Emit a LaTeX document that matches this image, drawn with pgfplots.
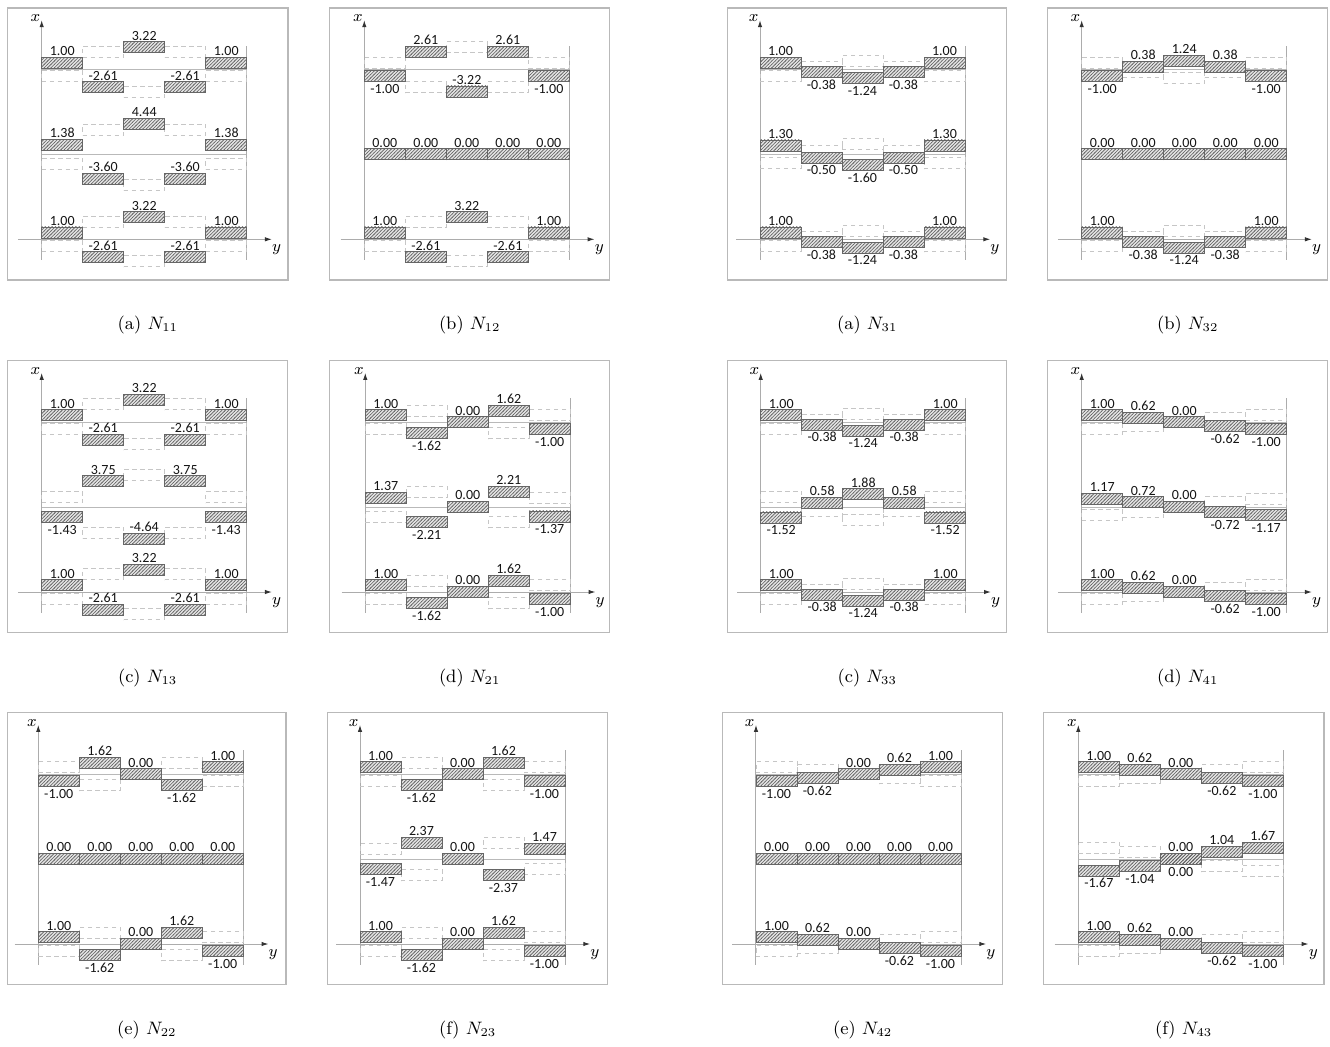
\documentclass[border=0pt]{standalone}
\usepackage{pgfplots}
\pgfplotsset{compat=1.18}
\usepackage{pgfplotstable}
\usepackage{fontspec}
\newfontfamily\numfont{Carlito}
\usetikzlibrary{patterns,arrows.meta}

\pgfdeclarepatternformonly{hatch}{\pgfpoint{-0.2pt}{-0.2pt}}{\pgfpoint{1.9pt}{1.9pt}}{\pgfpoint{1.7pt}{1.7pt}}{%
  \pgfsetlinewidth{0.3pt}%
  \pgfpathmoveto{\pgfpoint{-0.2pt}{-0.2pt}}%
  \pgfpathlineto{\pgfpoint{1.9pt}{1.9pt}}%
  \pgfusepath{stroke}}

\pgfdeclareplotmark{cellfill}{\pgfpathrectangle{\pgfpoint{-10.25pt}{-2.75pt}}{\pgfpoint{20.5pt}{5.5pt}}\pgfusepathqfill}
\pgfdeclareplotmark{cellhatch}{\pgfsetfillpattern{hatch}{black!62}\pgfpathrectangle{\pgfpoint{-10.25pt}{-2.75pt}}{\pgfpoint{20.5pt}{5.5pt}}\pgfusepathqfill}
\pgfdeclareplotmark{celledge}{\pgfpathrectangle{\pgfpoint{-10.25pt}{-2.75pt}}{\pgfpoint{20.5pt}{5.5pt}}\pgfusepathqstroke}

% c = cell, r = row (2 top, 0 bottom), v = value, p = label above (1) / below (0)
\pgfplotstableread{
c r v p
0 2 1.00 1
1 2 -2.61 1
2 2 3.22 1
3 2 -2.61 1
4 2 1.00 1
0 1 1.38 1
1 1 -3.60 1
2 1 4.44 1
3 1 -3.60 1
4 1 1.38 1
0 0 1.00 1
1 0 -2.61 1
2 0 3.22 1
3 0 -2.61 1
4 0 1.00 1
}\tNa

\pgfplotstableread{
c r v p
0 2 -1.00 0
1 2 2.61 1
2 2 -3.22 1
3 2 2.61 1
4 2 -1.00 0
0 1 0.00 1
1 1 0.00 1
2 1 0.00 1
3 1 0.00 1
4 1 0.00 1
0 0 1.00 1
1 0 -2.61 1
2 0 3.22 1
3 0 -2.61 1
4 0 1.00 1
}\tNb

\pgfplotstableread{
c r v p
0 2 1.00 1
1 2 -2.61 1
2 2 3.22 1
3 2 -2.61 1
4 2 1.00 1
0 1 -1.43 0
1 1 3.75 1
2 1 -4.64 1
3 1 3.75 1
4 1 -1.43 0
0 0 1.00 1
1 0 -2.61 1
2 0 3.22 1
3 0 -2.61 1
4 0 1.00 1
}\tNc

\pgfplotstableread{
c r v p
0 2 1.00 1
1 2 -1.62 0
2 2 0.00 1
3 2 1.62 1
4 2 -1.00 0
0 1 1.37 1
1 1 -2.21 0
2 1 0.00 1
3 1 2.21 1
4 1 -1.37 0
0 0 1.00 1
1 0 -1.62 0
2 0 0.00 1
3 0 1.62 1
4 0 -1.00 0
}\tNd

\pgfplotstableread{
c r v p
0 2 -1.00 0
1 2 1.62 1
2 2 0.00 1
3 2 -1.62 0
4 2 1.00 1
0 1 0.00 1
1 1 0.00 1
2 1 0.00 1
3 1 0.00 1
4 1 0.00 1
0 0 1.00 1
1 0 -1.62 0
2 0 0.00 1
3 0 1.62 1
4 0 -1.00 0
}\tNe

\pgfplotstableread{
c r v p
0 2 1.00 1
1 2 -1.62 0
2 2 0.00 1
3 2 1.62 1
4 2 -1.00 0
0 1 -1.47 0
1 1 2.37 1
2 1 0.00 1
3 1 -2.37 0
4 1 1.47 1
0 0 1.00 1
1 0 -1.62 0
2 0 0.00 1
3 0 1.62 1
4 0 -1.00 0
}\tNf

\pgfplotstableread{
c r v p
0 2 1.00 1
1 2 -0.38 0
2 2 -1.24 0
3 2 -0.38 0
4 2 1.00 1
0 1 1.30 1
1 1 -0.50 0
2 1 -1.60 0
3 1 -0.50 0
4 1 1.30 1
0 0 1.00 1
1 0 -0.38 0
2 0 -1.24 0
3 0 -0.38 0
4 0 1.00 1
}\tMa

\pgfplotstableread{
c r v p
0 2 -1.00 0
1 2 0.38 1
2 2 1.24 1
3 2 0.38 1
4 2 -1.00 0
0 1 0.00 1
1 1 0.00 1
2 1 0.00 1
3 1 0.00 1
4 1 0.00 1
0 0 1.00 1
1 0 -0.38 0
2 0 -1.24 0
3 0 -0.38 0
4 0 1.00 1
}\tMb

\pgfplotstableread{
c r v p
0 2 1.00 1
1 2 -0.38 0
2 2 -1.24 0
3 2 -0.38 0
4 2 1.00 1
0 1 -1.52 0
1 1 0.58 1
2 1 1.88 1
3 1 0.58 1
4 1 -1.52 0
0 0 1.00 1
1 0 -0.38 0
2 0 -1.24 0
3 0 -0.38 0
4 0 1.00 1
}\tMc

\pgfplotstableread{
c r v p
0 2 1.00 1
1 2 0.62 1
2 2 0.00 1
3 2 -0.62 0
4 2 -1.00 0
0 1 1.17 1
1 1 0.72 1
2 1 0.00 1
3 1 -0.72 0
4 1 -1.17 0
0 0 1.00 1
1 0 0.62 1
2 0 0.00 1
3 0 -0.62 0
4 0 -1.00 0
}\tMd

\pgfplotstableread{
c r v p
0 2 -1.00 0
1 2 -0.62 0
2 2 0.00 1
3 2 0.62 1
4 2 1.00 1
0 1 0.00 1
1 1 0.00 1
2 1 0.00 1
3 1 0.00 1
4 1 0.00 1
0 0 1.00 1
1 0 0.62 1
2 0 0.00 1
3 0 -0.62 0
4 0 -1.00 0
}\tMe

\pgfplotstableread{
c r v p
0 2 1.00 1
1 2 0.62 1
2 2 0.00 1
3 2 -0.62 0
4 2 -1.00 0
0 1 -1.67 0
1 1 -1.04 0
2 1 0.00 1
2 1 0.00 0
3 1 1.04 1
4 1 1.67 1
0 0 1.00 1
1 0 0.62 1
2 0 0.00 1
3 0 -0.62 0
4 0 -1.00 0
}\tMf

\newcommand\panel[6]{%
\begin{axis}[at={(#1pt,#2pt)}, anchor=north west,
  x=20.5pt, y=3.425pt, xmin=#3, xmax=#4, ymin=-5.94, ymax=33.77,
  ticks=none, clip=false, axis line style={gray!55, line width=0.6pt}]
 \addplot[gray!55, line width=0.45pt] coordinates {(0,12.4) (5,12.4)};
 \addplot[gray!55, line width=0.45pt] coordinates {(0,24.8) (5,24.8)};
 \addplot[gray!65, line width=0.5pt] coordinates {(5,-3.02) (5,28.26)};
 \addplot[gray!65, line width=0.5pt, -{Latex[black!80,length=3.5pt,width=2.2pt]}] coordinates {(0,-3.02) (0,32.0)};
 \addplot[gray!65, line width=0.5pt, -{Latex[black!80,length=3.5pt,width=2.2pt]}] coordinates {(-0.578,0) (5.617,0)};
 \addplot[only marks, mark=celledge, mark options={draw=gray!45, line width=0.4pt, dash pattern=on 2.2pt off 1.8pt}]
   table[x expr=\thisrow{c}+0.5, y expr=12.4*\thisrow{r}-\thisrow{v}] {#5};
 \addplot[only marks, mark=cellfill, mark options={fill=gray!22}]
   table[x expr=\thisrow{c}+0.5, y expr=12.4*\thisrow{r}+\thisrow{v}] {#5};
 \addplot[only marks, mark=cellhatch]
   table[x expr=\thisrow{c}+0.5, y expr=12.4*\thisrow{r}+\thisrow{v}] {#5};
 \addplot[only marks, mark=celledge, mark options={draw=black!60, line width=0.4pt, solid},
   nodes near coords, point meta=explicit symbolic,
   visualization depends on={\thisrow{p} \as \lpos},
   every node near coord/.append style={anchor=base, inner sep=0pt, text=black!92,
     font=\numfont\fontsize{7}{8}\selectfont, yshift={12.15pt*\lpos-8.6pt}}]
   table[x expr=\thisrow{c}+0.5, y expr=12.4*\thisrow{r}+\thisrow{v}, meta=v] {#5};
 \node[font=\fontsize{8.5}{9}\selectfont] at (axis cs:-0.156,32.3) {$x$};
 \node[font=\fontsize{8.5}{9}\selectfont] at (axis cs:5.73,-1.56) {$y$};
 \node[font=\fontsize{9}{11}\selectfont] at (rel axis cs:0.5,0) [yshift=-22.5pt] {#6};
\end{axis}}

\begin{document}
\begin{tikzpicture}
\useasboundingbox (0,0) rectangle (665pt,523.5pt);
\panel{3.85}{519.5}{-0.829}{6.007}{\tNa}{(a) $N_{11}$}
\panel{164.85}{519.5}{-0.844}{5.985}{\tNb}{(b) $N_{12}$}
\panel{363.85}{519.5}{-0.788}{6.017}{\tMa}{(a) $N_{31}$}
\panel{523.85}{519.5}{-0.829}{6.0}{\tMb}{(b) $N_{32}$}
\panel{3.85}{343.15}{-0.829}{6.0}{\tNc}{(c) $N_{13}$}
\panel{164.85}{343.15}{-0.868}{5.961}{\tNd}{(d) $N_{21}$}
\panel{363.85}{343.15}{-0.805}{6.0}{\tMc}{(c) $N_{33}$}
\panel{523.85}{343.15}{-0.829}{6.0}{\tMd}{(d) $N_{41}$}
\panel{3.85}{167.15}{-0.746}{6.042}{\tNe}{(e) $N_{22}$}
\panel{163.85}{167.15}{-0.788}{6.041}{\tNf}{(f) $N_{23}$}
\panel{361.35}{167.15}{-0.812}{6.017}{\tMe}{(e) $N_{42}$}
\panel{521.65}{167.15}{-0.854}{5.993}{\tMf}{(f) $N_{43}$}
\end{tikzpicture}
\end{document}
